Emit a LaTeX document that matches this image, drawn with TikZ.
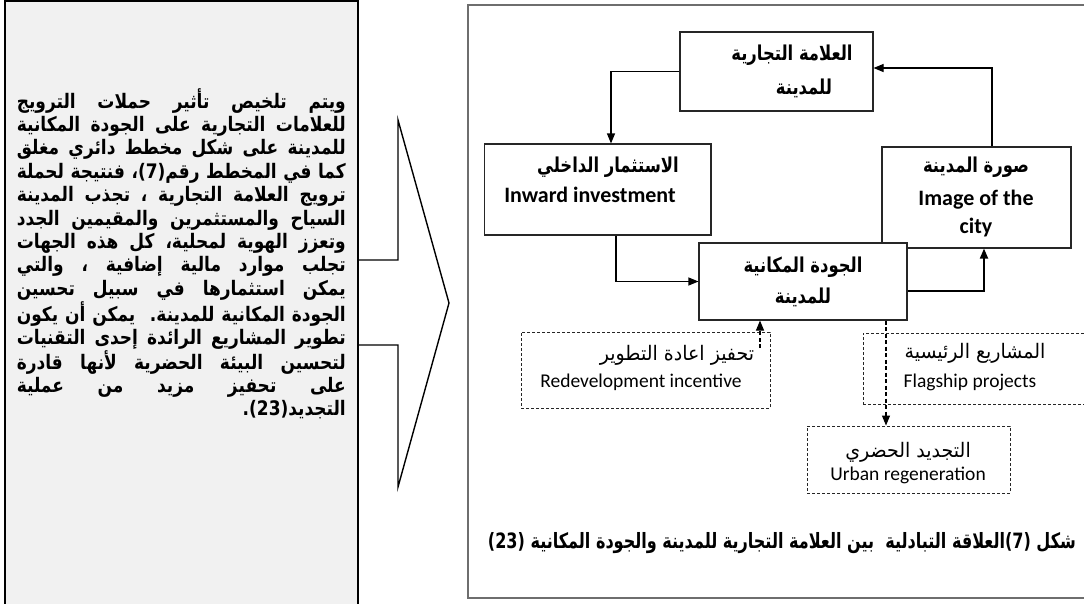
\documentclass[tikz,border=0pt]{standalone}
\usepackage{fontspec}
\usetikzlibrary{arrows.meta}
\TeXXeTstate=1
\setmainfont{Carlito}
% Arabic faces, slightly condensed
\newfontfamily\arabicfont[Script=Arabic, FakeStretch=0.95]{DejaVu Sans}
\newfontfamily\arabicbold[Script=Arabic, FakeStretch=0.8]{DejaVu Sans Bold}
\newfontfamily\arabiccol[Script=Arabic, FakeStretch=0.85]{DejaVu Sans Bold}
\newfontfamily\arabiccap[Script=Arabic, FakeStretch=0.76]{DejaVu Sans Bold}
% Arabic runs, regular and bold
\newcommand\AR[1]{{\arabicfont\beginR #1\endR}}
\newcommand\ARB[1]{{\arabicbold\beginR #1\endR}}
% justified right-to-left lines of the side column
\newlength\colw
\setlength\colw{329pt}
\newcommand\jline[1]{\hbox to \colw{\arabiccol\spaceskip=0.2em plus 1fil\beginR #1\endR}}
\newcommand\rline[1]{\hbox to \colw{\hfill\arabiccol\beginR #1\endR}}
\definecolor{panelgray}{HTML}{F1F1F1}
\definecolor{framegray}{HTML}{6E6E6E}
\tikzset{
  box/.style={draw=black!85, line width=1.1pt, fill=white, inner sep=0},
  dbox/.style={draw=black!85, line width=0.9pt, dash pattern=on 3pt off 2pt, fill=white, inner sep=0},
  arr/.style={line width=1.1pt, -{Triangle[length=10pt,width=8pt]}},
  darr/.style={arr, dash pattern=on 4pt off 2.5pt},
  txt/.style={inner sep=0},
  btxt/.style={txt, font=\fontsize{20.5}{24}\selectfont},
  etxt/.style={txt, font=\fontsize{22}{26}\selectfont\bfseries},
  rtxt/.style={txt, font=\fontsize{19.5}{23}\selectfont},
  ratxt/.style={txt, font=\fontsize{20}{23}\selectfont},
}
\begin{document}
\begin{tikzpicture}[x=1pt,y=-1pt]
\useasboundingbox (0,0) rectangle (1084,603);
\fill[white] (0,0) rectangle (1084,603);

% ---- side column with the summary text ----
\draw[line width=2pt, fill=panelgray] (5,1) rectangle (358,612);
\node[txt, anchor=north east, font=\fontsize{20}{23}\selectfont] (para) at (346,88) {\vbox{\baselineskip=23.4pt
\jline{ويتم تلخيص تأثير حملات الترويج}
\jline{للعلامات التجارية على الجودة المكانية}
\jline{للمدينة على شكل مخطط دائري مغلق}
\jline{كما في المخطط رقم(7)، فنتيجة لحملة}
\jline{ترويج العلامة التجارية ، تجذب المدينة}
\jline{السياح والمستثمرين والمقيمين الجدد}
\jline{وتعزز الهوية لمحلية، كل هذه الجهات}
\jline{تجلب موارد مالية إضافية ، والتي}
\jline{يمكن استثمارها في سبيل تحسين}
\jline{الجودة المكانية للمدينة. يمكن أن يكون}
\jline{تطوير المشاريع الرائدة إحدى التقنيات}
\jline{لتحسين البيئة الحضرية لأنها قادرة}
\jline{على تحفيز مزيد من عملية}
\rline{التجديد(23).}}};

% ---- block arrow leading to the figure ----
\draw[line width=1.4pt, line join=miter] (358,260) -- (398,260) -- (398,120) -- (449,303)
  -- (398,487) -- (398,345) -- (358,345);

% ---- figure frame ----
\draw[draw=framegray, line width=1.8pt] (468,5) rectangle (1095,598);

% ---- solid boxes ----
\node[box, minimum width=193pt, minimum height=79pt] (brand) at (776.5,71.5) {};
\node[box, minimum width=226.5pt, minimum height=91pt] (inward) at (597.75,189.5) {};
\node[box, minimum width=189pt, minimum height=101pt] (image) at (976.5,197.5) {};
\node[box, minimum width=208pt, minimum height=77pt] (quality) at (803,281.5) {};

% ---- dashed boxes ----
\node[dbox, minimum width=249pt, minimum height=76pt] (redev) at (645.5,370) {};
\node[dbox, minimum width=240pt, minimum height=71pt] (flag) at (983,368.5) {};
\node[dbox, minimum width=203pt, minimum height=67pt] (urban) at (908.5,459.5) {};

% ---- box texts ----
\node[btxt] (brandA) at (792,55) {\ARB{العلامة التجارية}};
\node[btxt] (brandB) at (804,88) {\ARB{للمدينة}};
\node[btxt] (inwardA) at (608,167) {\ARB{الاستثمار الداخلي}};
\node[etxt] (inwardB) at (590,195) {Inward investment};
\node[btxt] (imageA) at (976,167) {\ARB{صورة المدينة}};
\node[etxt] (imageB) at (976,200) {Image of the};
\node[etxt] (imageC) at (976,228) {city};
\node[btxt] (qualityA) at (803,267) {\ARB{الجودة المكانية}};
\node[btxt] (qualityB) at (803,297) {\ARB{للمدينة}};
\node[ratxt] (redevA) at (677,355) {\AR{تحفيز اعادة التطوير}};
\node[rtxt] (redevB) at (641,382) {Redevelopment incentive};
\node[ratxt] (flagA) at (975,353) {\AR{المشاريع الرئيسية}};
\node[rtxt] (flagB) at (970,382) {Flagship projects};
\node[ratxt] (urbanA) at (908,452) {\AR{التجديد الحضري}};
\node[rtxt] (urbanB) at (908,475) {Urban regeneration};

% ---- cycle connectors ----
\draw[arr] (brand.west) -| ([xshift=13.25pt]inward.north);
\draw[arr] ([xshift=15.5pt]image.north) |- ([yshift=3.5pt]brand.east);
\draw[arr] ([xshift=18.25pt]inward.south) |- (quality.west);
\draw[arr, line width=1.8pt] ([yshift=-9.5pt]quality.east) -| ([xshift=7.5pt]image.south);

% ---- dashed connectors ----
\coordinate (redevtip) at (760,348);
\draw[darr] (redevtip) -- ([xshift=-43pt]quality.south);
\draw[darr] ([xshift=83pt]quality.south) -- ([xshift=-22.5pt]urban.north);

% ---- caption ----
\node[txt] (caption) at (782,543) {\resizebox{588pt}{!}{{\arabiccap\beginR شكل (7)العلاقة التبادلية~~بين العلامة التجارية للمدينة والجودة المكانية (23)\endR}}};
\end{tikzpicture}
\end{document}
